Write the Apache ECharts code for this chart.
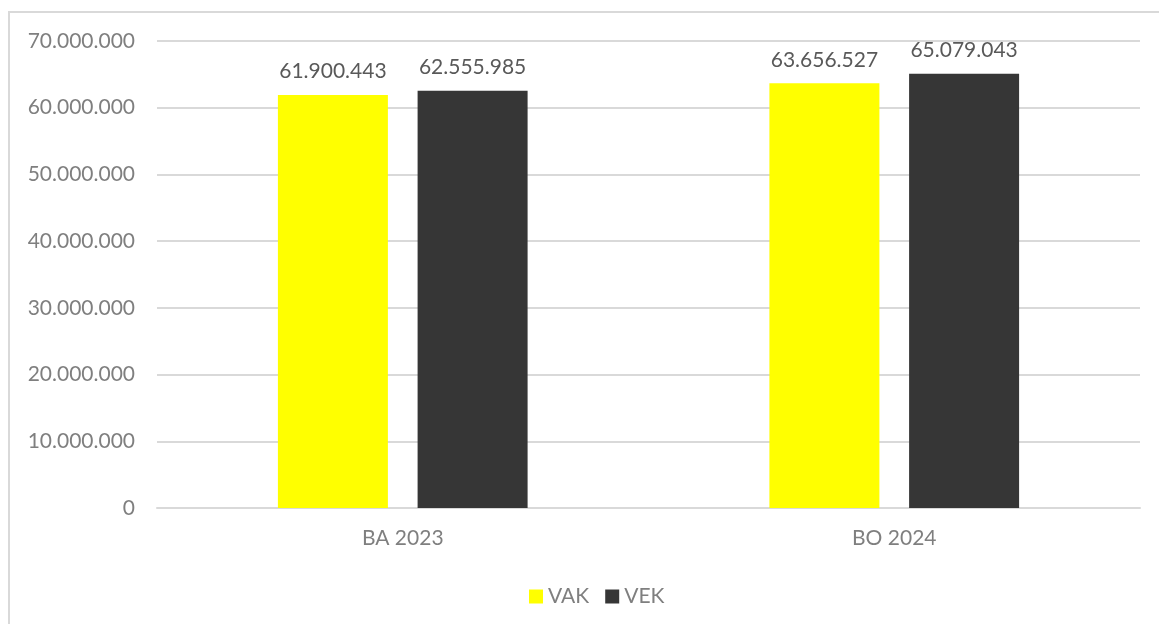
<!DOCTYPE html>
<html>
<head>
<meta charset="utf-8">
<script src="https://cdn.jsdelivr.net/npm/echarts@6/dist/echarts.min.js"></script>
<style>
html,body{margin:0;padding:0;background:#fff;}
#frame{position:absolute;left:8px;top:11px;width:1160px;height:620px;border-top:2px solid #d9d9d9;border-left:2px solid #d9d9d9;box-sizing:border-box;pointer-events:none;}
#chart{position:absolute;left:0;top:0;width:1159px;height:624px;}
</style>
</head>
<body>
<div id="chart"></div>
<div id="frame"></div>
<script>
const categories = ['BA 2023', 'BO 2024'];
const seriesNames = ['VAK', 'VEK'];
const vak = [61900443, 63656527];
const vek = [62555985, 65079043];
const yTicks = { min: 0, max: 70000000, interval: 10000000 };

function fmt(v) {
  return String(Math.round(v)).replace(/\B(?=(\d{3})+(?!\d))/g, '.');
}

const font = 'Lato, "Open Sans", sans-serif';
const chart = echarts.init(document.getElementById('chart'));
chart.setOption({
  animation: false,
  textStyle: { fontFamily: font },
  grid: { left: 157, right: 19, top: 41, bottom: 116 },
  legend: {
    data: seriesNames,
    top: 581,
    left: 524,
    itemWidth: 14,
    itemHeight: 14,
    itemGap: 16,
    icon: 'rect',
    textStyle: { color: '#7f7f7f', fontSize: 21, fontFamily: font }
  },
  xAxis: {
    type: 'category',
    data: categories,
    axisTick: { show: false },
    axisLine: { lineStyle: { color: '#d9d9d9', width: 2 } },
    axisLabel: { color: '#7f7f7f', fontSize: 21, margin: 20, fontFamily: font }
  },
  yAxis: {
    type: 'value',
    min: yTicks.min,
    max: yTicks.max,
    interval: yTicks.interval,
    axisLine: { show: false },
    axisTick: { show: false },
    splitLine: { lineStyle: { color: '#d9d9d9', width: 2 } },
    axisLabel: { color: '#7f7f7f', fontSize: 21, margin: 22, fontFamily: font, formatter: fmt }
  },
  series: [
    {
      name: seriesNames[0], type: 'bar', data: vak, barWidth: 110, barGap: '27%',
      itemStyle: { color: '#ffff00' },
      label: { show: true, position: 'top', distance: 13, color: '#595959', fontSize: 21, fontFamily: font, formatter: p => fmt(p.value) }
    },
    {
      name: seriesNames[1], type: 'bar', data: vek, barWidth: 110, barGap: '27%',
      itemStyle: { color: '#363636' },
      label: { show: true, position: 'top', distance: 13, color: '#595959', fontSize: 21, fontFamily: font, formatter: p => fmt(p.value) }
    }
  ]
});
</script>
</body>
</html>
